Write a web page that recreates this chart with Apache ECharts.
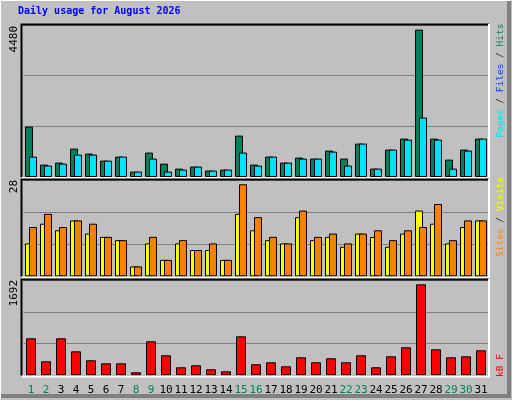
<!DOCTYPE html>
<html><head><meta charset="utf-8">
<script src="https://cdn.jsdelivr.net/npm/echarts@6/dist/echarts.min.js"></script>
<style>html,body{margin:0;padding:0;background:#c0c0c0}#c{width:512px;height:400px}</style>
</head><body><div id="c"></div>
<script>
const days = ['1','2','3','4','5','6','7','8','9','10','11','12','13','14','15','16','17','18','19','20','21','22','23','24','25','26','27','28','29','30','31'];
const weekend = ['1','2','8','9','15','16','22','23','29','30'];
const hits  = [1532,377,438,863,711,498,620,164,742,407,255,316,195,225,1258,377,620,438,590,559,803,559,1015,255,833,1167,4480,1167,529,833,1167];
const files = [620,347,407,681,681,498,620,164,559,164,225,316,195,225,742,347,620,438,559,559,772,347,1015,255,833,1136,1805,1136,255,803,1167];
const pages = [620,347,407,681,681,498,620,164,559,164,225,316,195,225,742,347,620,438,559,559,772,347,1015,255,833,1136,1805,1136,255,803,1167];
const sites = [10,16,14,17,13,12,11,3,10,5,10,8,8,5,19,14,11,10,18,11,12,9,13,12,9,13,20,16,10,15,17];
const visits= [15,19,15,17,16,12,11,3,12,5,11,8,10,5,28,18,12,10,20,12,13,10,13,14,11,14,15,22,11,17,17];
const kbytes= [688,260,688,446,279,223,223,56,632,372,149,186,112,74,725,205,242,167,335,242,316,242,372,149,353,521,1692,483,335,353,465];
const maxLabels = ['4480','28','1692'];
const title = 'Daily usage for August 2026';

const chart = echarts.init(document.getElementById('c'), null, {renderer:'canvas'});
const mono = 'DejaVu Sans Mono';
const L = 23.5, W = 465;
const grids = [
  {left:L, width:W, top:25, height:152},
  {left:L, width:W, top:180, height:96.3},
  {left:L, width:W, top:280, height:95.3}
];
const ymax = [4620, 29.3, 1772];
const bs = c => ({color:c, borderColor:'#000', borderWidth:1});
function xa(i, show){
  return {type:'category', gridIndex:i, data:days, boundaryGap:true,
    axisLine:{show:false}, axisTick:{show:false},
    axisLabel:{show:show, margin:9, fontFamily:mono, fontSize:11, interval:0,
      color: v => weekend.includes(v) ? '#00805c' : '#000'}};
}
function ya(i){
  return {type:'value', gridIndex:i, min:0, max:ymax[i], interval:ymax[i]/3,
    axisLabel:{show:false}, axisLine:{show:false}, axisTick:{show:false},
    splitLine:{show:true, lineStyle:{color:'#808080', width:1}}};
}
const g = [];
// outer bevel
g.push({type:'rect', shape:{x:0,y:0,width:512,height:400}, style:{fill:'#c0c0c0'}, z:-10});
g.push({type:'polyline', shape:{points:[[0.5,399],[0.5,0.5],[511,0.5]]}, style:{stroke:'#fff', lineWidth:1, fill:null}});
g.push({type:'polyline', shape:{points:[[1,396],[509,396],[509,1]]}, style:{stroke:'#808080', lineWidth:4, fill:null}});
// panel borders
[[25,177],[180,276.5],[280,375.5]].forEach(([t,b])=>{
  g.push({type:'polyline', shape:{points:[[21.5,b],[21.5,t-0.5],[489,t-0.5]]}, style:{stroke:'#000',lineWidth:2,fill:null}, z:50});
  g.push({type:'polyline', shape:{points:[[22,b+1],[489,b+1],[489,t-1]]}, style:{stroke:'#fff',lineWidth:2,fill:null}, z:50});
});
// y max labels
[[26,0],[180,1],[280,2]].forEach(([y,i])=>{
  g.push({type:'text', x:9, y:y, rotation:Math.PI/2,
    style:{text:maxLabels[i], font:'11px '+mono, fill:'#000', align:'right', verticalAlign:'top'}});
});
g.push({type:'text', x:18, y:6, style:{text:title, font:'bold 10px '+mono, fill:'#0000ff'}});
function legend(y, parts){
  g.push({type:'text', x:501, y:y, rotation:Math.PI/2,
    style:{text:parts.map(p=>'{'+p[1]+'|'+p[0]+'}').join(''), align:'left', verticalAlign:'middle',
      rich:{c:{fill:'#00e0ff',font:'9.5px '+mono},b:{fill:'#0040ff',font:'9.5px '+mono},
            h:{fill:'#00805c',font:'9.5px '+mono},k:{fill:'#303030',font:'9.5px '+mono},
            y:{fill:'#ffff00',font:'9.5px '+mono},o:{fill:'#ff8000',font:'9.5px '+mono},
            r:{fill:'#ff0000',font:'9.5px '+mono}}}});
}
legend(138, [['Pages','c'],[' / ','k'],['Files','b'],[' / ','k'],['Hits','h']]);
legend(257, [['Sites','o'],[' / ','k'],['Visits','y']]);
legend(377, [['kB F','r']]);

chart.setOption({
  animation:false,
  backgroundColor:'#c0c0c0',
  grid:grids,
  xAxis:[xa(0,false), xa(1,false), xa(2,true)],
  yAxis:[ya(0), ya(1), ya(2)],
  series:[
    {type:'bar', name:'Hits', xAxisIndex:0, yAxisIndex:0, data:hits, barWidth:8, barGap:'-50%', itemStyle:bs('#00805c')},
    {type:'bar', name:'Pages', xAxisIndex:0, yAxisIndex:0, data:pages, barWidth:8, itemStyle:bs('#00e0ff')},
    {type:'bar', name:'Sites', xAxisIndex:1, yAxisIndex:1, data:sites, barWidth:8, barGap:'-50%', itemStyle:bs('#ffff00')},
    {type:'bar', name:'Visits', xAxisIndex:1, yAxisIndex:1, data:visits, barWidth:8, itemStyle:bs('#ff8000')},
    {type:'bar', name:'KB', xAxisIndex:2, yAxisIndex:2, data:kbytes, barWidth:10, itemStyle:bs('#ff0000')}
  ],
  graphic:g
});
</script></body></html>
